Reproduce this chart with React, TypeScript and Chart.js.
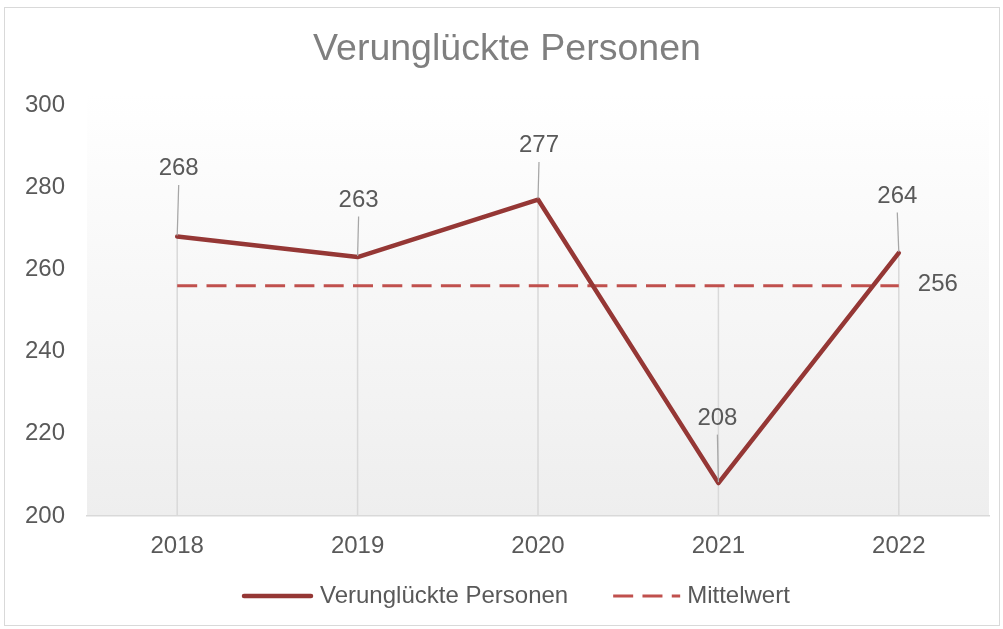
import React, { useEffect, useRef } from "react";
import { Chart, registerables } from "chart.js";

Chart.register(...registerables);

const TITLE = "Verunglückte Personen";
const YEARS = ["2018", "2019", "2020", "2021", "2022"];
const SERIES_NAME = "Verunglückte Personen";
const SERIES_VALUES = [268, 263, 277, 208, 264];
const MEAN_NAME = "Mittelwert";
const MEAN_VALUES = [256, 256, 256, 256, 256];
const Y_MIN = 200;
const Y_MAX = 300;
const Y_STEP = 20;

// label placement (pixel offsets relative to the point) – style only
const LABEL_DX = [1.5, 1, 1, -1, -1.5];
const LABEL_DY = [-68, -57, -54, -65, -57];

const FONT = "'Liberation Sans', Arial, Helvetica, sans-serif";
const TEXT = "#595959";
const MAIN = "#953735";
const MEAN = "#c0504d";

const bgPlugin = {
  id: "plotBg",
  beforeDraw(chart: any) {
    const { ctx, chartArea: a } = chart;
    const top = a.top - 12;
    const g = ctx.createLinearGradient(0, top, 0, a.bottom);
    g.addColorStop(0, "#ffffff");
    g.addColorStop(1, "#eeeeee");
    ctx.save();
    ctx.fillStyle = g;
    ctx.fillRect(a.left, top, a.right - a.left, a.bottom - top);
    ctx.restore();
  },
  beforeDatasetsDraw(chart: any) {
    const { ctx, chartArea: a } = chart;
    const m0 = chart.getDatasetMeta(0).data;
    const m1 = chart.getDatasetMeta(1).data;
    ctx.save();
    ctx.strokeStyle = "#d9d9d9";
    ctx.lineWidth = 1.5;
    for (let i = 0; i < m0.length; i++) {
      const x = m0[i].x;
      const top = Math.min(m0[i].y, m1[i].y);
      ctx.beginPath();
      ctx.moveTo(x, top);
      ctx.lineTo(x, a.bottom);
      ctx.stroke();
    }
    ctx.restore();
  },
  afterDatasetsDraw(chart: any) {
    const { ctx } = chart;
    const m0 = chart.getDatasetMeta(0).data;
    const m1 = chart.getDatasetMeta(1).data;
    ctx.save();
    ctx.font = `24px ${FONT}`;
    ctx.fillStyle = TEXT;
    ctx.textAlign = "center";
    ctx.textBaseline = "middle";
    for (let i = 0; i < m0.length; i++) {
      const p = m0[i];
      const lx = p.x + LABEL_DX[i];
      const ly = p.y + LABEL_DY[i];
      ctx.strokeStyle = "#a6a6a6";
      ctx.lineWidth = 1.25;
      ctx.beginPath();
      ctx.moveTo(lx, ly + 16.5);
      ctx.lineTo(p.x, p.y - 1);
      ctx.stroke();
      ctx.fillText(String(SERIES_VALUES[i]), lx, ly);
    }
    const last = m1[m1.length - 1];
    ctx.fillText(String(MEAN_VALUES[MEAN_VALUES.length - 1]), last.x + 39, last.y - 1);
    ctx.restore();
  },
  afterDraw(chart: any) {
    const { ctx } = chart;
    const y = 596;
    let x = 242;
    const items = [
      { text: SERIES_NAME, color: MAIN, width: 4.5, dash: [] as number[], cap: "round", w: 71 },
      { text: MEAN_NAME, color: MEAN, width: 3, dash: [20, 9.3], cap: "butt", w: 67 },
    ];
    ctx.save();
    ctx.font = `24px ${FONT}`;
    ctx.textBaseline = "middle";
    ctx.textAlign = "left";
    items.forEach((it) => {
      ctx.strokeStyle = it.color;
      ctx.lineWidth = it.width;
      ctx.lineCap = it.cap;
      ctx.setLineDash(it.dash);
      ctx.beginPath();
      ctx.moveTo(x + (it.cap === "round" ? 2 : 0), y);
      ctx.lineTo(x + it.w - (it.cap === "round" ? 2 : 0), y);
      ctx.stroke();
      ctx.setLineDash([]);
      ctx.fillStyle = TEXT;
      const tx = x + it.w + 7;
      ctx.fillText(it.text, tx, y + 0.5);
      x = tx + ctx.measureText(it.text).width + 45;
    });
    ctx.restore();
  },
};

export default function App() {
  const ref = useRef<HTMLCanvasElement | null>(null);
  useEffect(() => {
    if (!ref.current) return;
    const chart = new Chart(ref.current, {
      type: "line",
      data: {
        labels: YEARS,
        datasets: [
          {
            label: SERIES_NAME,
            data: SERIES_VALUES,
            borderColor: MAIN,
            backgroundColor: MAIN,
            borderWidth: 4.5,
            pointRadius: 0,
            tension: 0,
            borderJoinStyle: "round",
            borderCapStyle: "round",
          },
          {
            label: MEAN_NAME,
            data: MEAN_VALUES,
            borderColor: MEAN,
            backgroundColor: MEAN,
            borderWidth: 3,
            borderDash: [20, 9.3],
            pointRadius: 0,
            tension: 0,
          },
        ],
      },
      options: {
        responsive: false,
        animation: false,
        devicePixelRatio: 1,
        layout: { padding: { left: 25, right: 14, top: 0, bottom: 68 } },
        plugins: {
          legend: { display: false },
          tooltip: { enabled: false },
          title: {
            display: true,
            text: TITLE,
            color: "#7f7f7f",
            font: { size: 37.5, family: FONT, weight: "normal" },
            padding: { top: 27, bottom: 33 },
          },
        },
        scales: {
          x: {
            type: "category",
            offset: true,
            grid: { display: false, drawTicks: false },
            border: { display: true, color: "#d9d9d9", width: 1.5 },
            ticks: { color: TEXT, font: { size: 24, family: FONT }, padding: 16, maxRotation: 0 },
            afterFit: (s: any) => {
              s.height = 45;
            },
          },
          y: {
            min: Y_MIN,
            max: Y_MAX,
            grid: { display: false, drawTicks: false },
            border: { display: false },
            ticks: { stepSize: Y_STEP, color: TEXT, font: { size: 24, family: FONT }, padding: 22 },
            afterFit: (s: any) => {
              s.width = 62;
            },
          },
        },
      },
      plugins: [bgPlugin],
    });
    return () => chart.destroy();
  }, []);
  return (
    <div style={{ position: "absolute", left: 0, top: 0, width: 1003, height: 629, background: "#fff", overflow: "hidden" }}>
      <div
        style={{
          position: "absolute",
          left: 4,
          top: 7,
          width: 996,
          height: 619,
          border: "1px solid #d9d9d9",
          boxSizing: "border-box",
        }}
      />
      <canvas ref={ref} width={1003} height={629} style={{ position: "absolute", left: 0, top: 0 }} />
    </div>
  );
}
